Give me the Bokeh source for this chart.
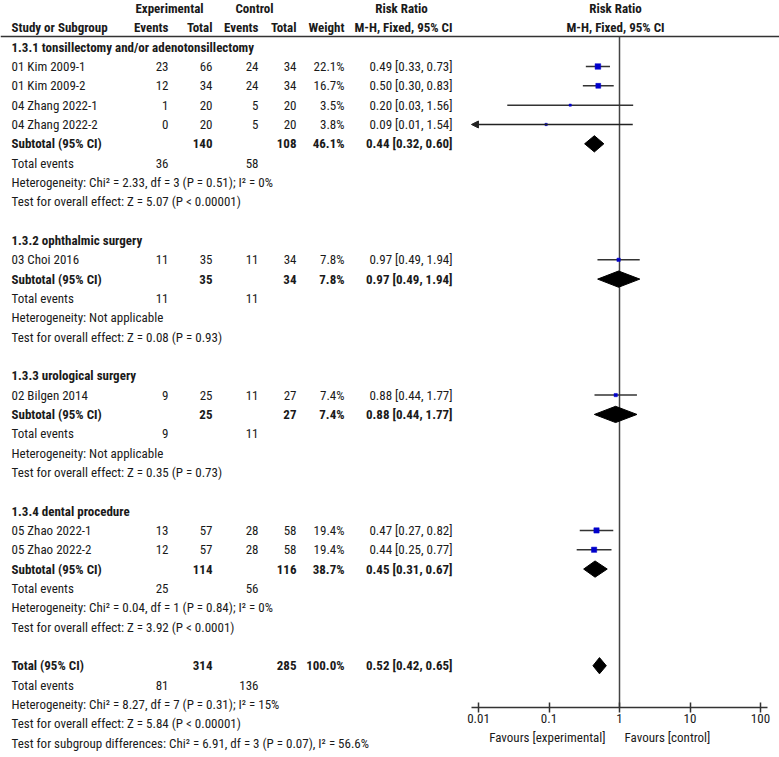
import math
from bokeh.plotting import figure
from bokeh.models import Range1d, LogScale, LogAxis, FixedTicker, Arrow, NormalHead
from bokeh.core.properties import value
from bokeh.embed import file_html
from bokeh.resources import INLINE

# ---------------- data ----------------
studies = ["01 Kim 2009-1", "01 Kim 2009-2", "04 Zhang 2022-1", "04 Zhang 2022-2",
           "03 Choi 2016", "02 Bilgen 2014", "05 Zhao 2022-1", "05 Zhao 2022-2"]
study_group = [0, 0, 0, 0, 1, 2, 3, 3]
exp_events = [23, 12, 1, 0, 11, 9, 13, 12]
exp_total = [66, 34, 20, 20, 35, 25, 57, 57]
ctl_events = [24, 24, 5, 5, 11, 11, 28, 28]
ctl_total = [34, 34, 20, 20, 34, 27, 58, 58]
weights = [22.1, 16.7, 3.5, 3.8, 7.8, 7.4, 19.4, 19.4]
rr = [0.494, 0.500, 0.200, 0.091, 0.971, 0.884, 0.472, 0.436]
rr_lo = [0.333, 0.302, 0.0256, 0.0054, 0.487, 0.442, 0.273, 0.247]
rr_hi = [0.733, 0.828, 1.563, 1.542, 1.936, 1.767, 0.816, 0.770]

groups = ["1.3.1 tonsillectomy and/or adenotonsillectomy", "1.3.2 ophthalmic surgery",
          "1.3.3 urological surgery", "1.3.4 dental procedure"]
grp_exp_total = [140, 35, 25, 114]
grp_ctl_total = [108, 34, 27, 116]
grp_exp_events = [36, 11, 9, 25]
grp_ctl_events = [58, 11, 11, 56]
grp_weight = [46.1, 7.8, 7.4, 38.7]
grp_rr = [0.44, 0.97, 0.88, 0.45]
grp_lo = [0.32, 0.49, 0.44, 0.31]
grp_hi = [0.60, 1.94, 1.77, 0.67]
grp_het = ["Heterogeneity: Chi\u00b2 = 2.33, df = 3 (P = 0.51); I\u00b2 = 0%",
           "Heterogeneity: Not applicable",
           "Heterogeneity: Not applicable",
           "Heterogeneity: Chi\u00b2 = 0.04, df = 1 (P = 0.84); I\u00b2 = 0%"]
grp_test = ["Test for overall effect: Z = 5.07 (P < 0.00001)",
            "Test for overall effect: Z = 0.08 (P = 0.93)",
            "Test for overall effect: Z = 0.35 (P = 0.73)",
            "Test for overall effect: Z = 3.92 (P < 0.0001)"]

tot_exp_total, tot_ctl_total = 314, 285
tot_exp_events, tot_ctl_events = 81, 136
tot_weight = 100.0
tot_rr, tot_lo, tot_hi = 0.52, 0.42, 0.65
tot_lines = ["Heterogeneity: Chi\u00b2 = 8.27, df = 7 (P = 0.31); I\u00b2 = 15%",
             "Test for overall effect: Z = 5.84 (P < 0.00001)",
             "Test for subgroup differences: Chi\u00b2 = 6.91, df = 3 (P = 0.07), I\u00b2 = 56.6%"]

tick_values = [0.01, 0.1, 1, 10, 100]
tick_labels = ["0.01", "0.1", "1", "10", "100"]
favours = ["Favours [experimental]", "Favours [control]"]

# ---------------- layout ----------------
W, H = 779, 757
FNAME = "Roboto Condensed"
FONT = value(FNAME)
FS = "13px"
TXT = "#1a1a1a"
DISP_LO, DISP_HI = 10 ** -2.1, 10 ** 2.1
ROW0, ROWH = 8.0, 19.33
top = -ROW0 / ROWH
bottom = top + H / ROWH

p = figure(width=W, height=H, output_backend="svg", toolbar_location=None,
           x_range=Range1d(0, W), y_range=Range1d(bottom, top),
           x_axis_location=None, y_axis_location=None, min_border=0,
           outline_line_color=None, background_fill_color="white",
           border_fill_color="white")
p.xgrid.visible = False
p.ygrid.visible = False
# log range for the forest part (1 decade ~ 70.5 px, RR=1 at x=619)
p.extra_x_ranges = {"rr": Range1d(10 ** (-619 / 70.5), 10 ** ((W - 619) / 70.5))}
p.extra_x_scales = {"rr": LogScale()}

# column anchors
X_STUDY, X_EE, X_ET, X_CE, X_CT, X_W, X_CI = 11, 168, 212, 258, 296, 344, 452

tx, ty, tt, ta, tb = [], [], [], [], []


def put(x, y, s, align="left", bold=False):
    tx.append(x); ty.append(y); tt.append(s); ta.append(align)
    tb.append("bold" if bold else "normal")


def ci(r, lo, hi):
    return f"{r:.2f} [{lo:.2f}, {hi:.2f}]"


# header
put(169, 0, "Experimental", "center", True)
put(254, 0, "Control", "center", True)
put(401, 0, "Risk Ratio", "center", True)
put(X_STUDY, 1, "Study or Subgroup", "left", True)
put(X_EE, 1, "Events", "right", True)
put(X_ET, 1, "Total", "right", True)
put(X_CE, 1, "Events", "right", True)
put(X_CT, 1, "Total", "right", True)
put(X_W, 1, "Weight", "right", True)
put(X_CI, 1, "M-H, Fixed, 95% CI", "right", True)

study_rows = []
sub_rows = []
row = 2
for g in range(len(groups)):
    put(X_STUDY, row, groups[g], "left", True)
    row += 1
    for i in range(len(studies)):
        if study_group[i] != g:
            continue
        put(X_STUDY, row, studies[i])
        put(X_EE, row, str(exp_events[i]), "right")
        put(X_ET, row, str(exp_total[i]), "right")
        put(X_CE, row, str(ctl_events[i]), "right")
        put(X_CT, row, str(ctl_total[i]), "right")
        put(X_W, row, f"{weights[i]:.1f}%", "right")
        put(X_CI, row, ci(rr[i], rr_lo[i], rr_hi[i]), "right")
        study_rows.append(row)
        row += 1
    put(X_STUDY, row, "Subtotal (95% CI)", "left", True)
    put(X_ET, row, str(grp_exp_total[g]), "right", True)
    put(X_CT, row, str(grp_ctl_total[g]), "right", True)
    put(X_W, row, f"{grp_weight[g]:.1f}%", "right", True)
    put(X_CI, row, ci(grp_rr[g], grp_lo[g], grp_hi[g]), "right", True)
    sub_rows.append(row)
    row += 1
    put(X_STUDY, row, "Total events")
    put(X_EE, row, str(grp_exp_events[g]), "right")
    put(X_CE, row, str(grp_ctl_events[g]), "right")
    row += 1
    put(X_STUDY, row, grp_het[g]); row += 1
    put(X_STUDY, row, grp_test[g]); row += 1
    row += 1

total_row = row
put(X_STUDY, row, "Total (95% CI)", "left", True)
put(X_ET, row, str(tot_exp_total), "right", True)
put(X_CT, row, str(tot_ctl_total), "right", True)
put(X_W, row, f"{tot_weight:.1f}%", "right", True)
put(X_CI, row, ci(tot_rr, tot_lo, tot_hi), "right", True)
row += 1
put(X_STUDY, row, "Total events")
put(X_EE, row, str(tot_exp_events), "right")
put(X_CE, row, str(tot_ctl_events), "right")
row += 1
for s in tot_lines:
    put(X_STUDY, row, s); row += 1

for style in ("normal", "bold"):
    idx = [k for k in range(len(tt)) if tb[k] == style]
    p.text(x=[tx[k] for k in idx], y=[ty[k] for k in idx], text=[tt[k] for k in idx],
           text_align=[ta[k] for k in idx], text_baseline="middle",
           text_font=FONT, text_font_size=FS, text_font_style=style, text_color=TXT)

# forest header
p.text(x=[1, 1], y=[0, 1], text=["Risk Ratio", "M-H, Fixed, 95% CI"], x_range_name="rr",
       x_offset=-4, text_align="center", text_baseline="middle", text_font=FONT,
       text_font_size=FS, text_font_style="bold", text_color=TXT)

# header rule
rule_y = (36 - ROW0) / ROWH
p.segment(x0=[0], y0=[rule_y], x1=[W], y1=[rule_y], line_color="#333333", line_width=1.5)

axis_y = (707 - ROW0) / ROWH
# line of no effect
p.segment(x0=[1], y0=[rule_y], x1=[1], y1=[axis_y], x_range_name="rr",
          line_color="#444444", line_width=1.5)

# study CIs and squares
x0s, x1s, ys = [], [], []
for i, r in enumerate(study_rows):
    lo = max(rr_lo[i], DISP_LO)
    hi = min(rr_hi[i], DISP_HI)
    if rr_lo[i] < DISP_LO:
        p.add_layout(Arrow(x_start=hi, y_start=r, x_end=DISP_LO, y_end=r, x_range_name="rr",
                           line_color="#222222", line_width=1.5,
                           end=NormalHead(size=7, fill_color="#222222", line_color="#222222")))
    else:
        x0s.append(lo); x1s.append(hi); ys.append(r)
p.segment(x0=x0s, y0=ys, x1=x1s, y1=ys, x_range_name="rr", line_color="#333333", line_width=1.5)
p.scatter(x=rr, y=study_rows, size=[1.2 * math.sqrt(w) for w in weights], marker="square",
          x_range_name="rr", fill_color="#0000cc", line_color="#0000cc", line_width=0.5)

# diamonds
dh = 0.42
dx, dy = [], []
for g, r in enumerate(sub_rows):
    dx.append([grp_lo[g], grp_rr[g], grp_hi[g], grp_rr[g]])
    dy.append([r, r - dh, r, r + dh])
dx.append([tot_lo, tot_rr, tot_hi, tot_rr])
dy.append([total_row, total_row - dh, total_row, total_row + dh])
p.patches(xs=dx, ys=dy, x_range_name="rr", fill_color="black", line_color="black")

# axis
ax = LogAxis(x_range_name="rr", fixed_location=axis_y, bounds=(DISP_LO, DISP_HI),
             ticker=FixedTicker(ticks=tick_values),
             major_label_overrides={t: l for t, l in zip(tick_values, tick_labels)},
             axis_line_color="#333333", axis_line_width=1.5,
             major_tick_line_color="#333333", major_tick_line_width=1.5,
             major_tick_in=5, major_tick_out=5, minor_tick_line_color=None,
             major_label_standoff=1,
             major_label_text_font=FNAME, major_label_text_font_size=FS,
             major_label_text_color=TXT)
p.add_layout(ax, "below")

fav_y = (737 - ROW0) / ROWH
p.text(x=[1, 1], y=[fav_y, fav_y], text=favours, x_range_name="rr", x_offset=[-14, 5],
       text_align=["right", "left"], text_baseline="middle", text_font=FONT,
       text_font_size=FS, text_color=TXT)

open("out.html", "w").write(file_html(p, INLINE))
